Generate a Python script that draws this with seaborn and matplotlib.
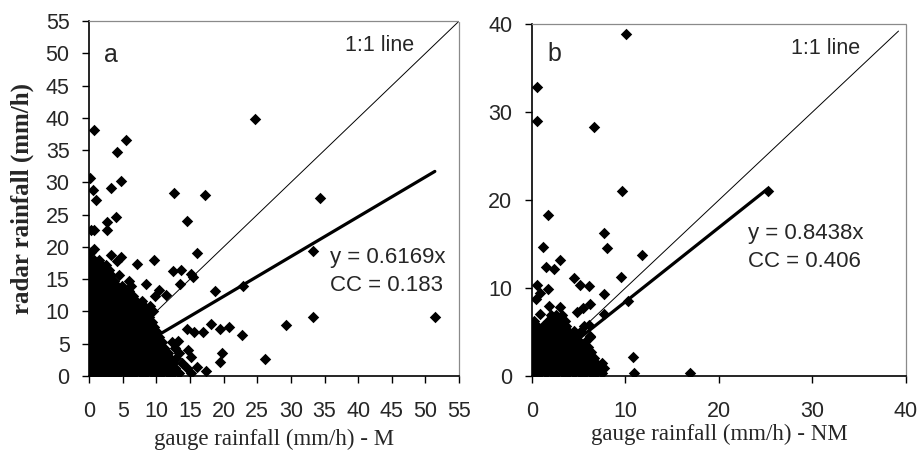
import pandas as pd
import seaborn as sns
import matplotlib.pyplot as plt

# panel a (M): dense cluster near origin, stored as rows of (radar value, gauge values)
a_cluster = [
    (18.0, [0.1, 0.8, 1.5]),
    (17.2, [0.4, 1.1, 1.9, 2.5]),
    (16.4, [0.1, 0.8, 1.5, 2.2, 2.9]),
    (15.6, [0.4, 1.1, 1.9, 2.6, 3.3, 4.4]),
    (14.8, [0.1, 0.8, 1.5, 2.2, 2.9, 3.7, 5.9]),
    (14.0, [0.4, 1.1, 1.9, 2.6, 3.3, 4.1, 4.9, 6.3]),
    (13.2, [0.1, 0.8, 1.5, 2.2, 2.9, 3.7, 4.5, 5.3, 6.0]),
    (12.4, [0.4, 1.1, 1.9, 2.6, 3.3, 4.1, 4.9, 5.6, 6.6, 9.8]),
    (11.6, [0.1, 0.8, 1.5, 2.2, 2.9, 3.7, 4.5, 5.3, 6.1, 7.0, 7.8]),
    (10.8, [0.4, 1.1, 1.9, 2.6, 3.3, 4.1, 4.9, 5.6, 6.4, 7.3, 8.2, 9.0]),
    (10.0, [0.1, 0.8, 1.5, 2.2, 2.9, 3.7, 4.5, 5.3, 6.1, 6.9, 7.7, 8.6, 9.5]),
    (9.2, [0.4, 1.1, 1.9, 2.6, 3.3, 4.1, 4.9, 5.6, 6.4, 7.2, 8.0, 8.9]),
    (8.4, [0.1, 0.8, 1.5, 2.2, 2.9, 3.7, 4.5, 5.3, 6.1, 6.9, 7.7, 8.5, 9.3]),
    (7.6, [0.4, 1.1, 1.9, 2.6, 3.3, 4.1, 4.9, 5.6, 6.4, 7.2, 8.0, 8.8, 9.6]),
    (6.8, [0.1, 0.8, 1.5, 2.2, 2.9, 3.7, 4.5, 5.3, 6.1, 6.9, 7.7, 8.5, 9.3, 10.1]),
    (6.0, [0.4, 1.1, 1.9, 2.6, 3.3, 4.1, 4.9, 5.6, 6.4, 7.2, 8.0, 8.8, 9.6, 10.4]),
    (5.2, [0.1, 0.8, 1.5, 2.2, 2.9, 3.7, 4.5, 5.3, 6.1, 6.9, 7.7, 8.5, 9.3, 10.1, 10.9, 12.4]),
    (4.4, [0.4, 1.1, 1.9, 2.6, 3.3, 4.1, 4.9, 5.6, 6.4, 7.2, 8.0, 8.8, 9.6, 10.4, 11.2, 12.8]),
    (3.6, [0.1, 0.8, 1.5, 2.2, 2.9, 3.7, 4.5, 5.3, 6.1, 6.9, 7.7, 8.5, 9.3, 10.1, 10.9, 11.7, 13.4]),
    (2.8, [0.4, 1.1, 1.9, 2.6, 3.3, 4.1, 4.9, 5.6, 6.4, 7.2, 8.0, 8.8, 9.6, 10.4, 11.2, 12.0, 12.9]),
    (2.0, [0.1, 0.8, 1.5, 2.2, 2.9, 3.7, 4.5, 5.3, 6.1, 6.9, 7.7, 8.5, 9.3, 10.1, 10.9, 11.7, 12.5, 13.8]),
    (1.2, [0.4, 1.1, 1.9, 2.6, 3.3, 4.1, 4.9, 5.6, 6.4, 7.2, 8.0, 8.8, 9.6, 10.4, 11.2, 12.0, 12.8, 14.5]),
    (0.4, [0.1, 0.8, 1.5, 2.2, 2.9, 3.7, 4.5, 5.3, 6.1, 6.9, 7.7, 8.5, 9.3, 10.1, 10.9, 11.7, 12.5, 13.3, 15.1]),
]

# panel a scattered points
a_gauge = [24.6, 0.8, 5.5, 4.1, 0.2, 4.8, 3.3, 0.6, 1.1, 12.6, 17.3, 34.4, 14.6, 4.0,
           2.6, 2.6, 0.3, 0.8, 16.1, 33.3, 0.3, 0.7, 3.3, 4.1, 4.8, 7.2, 9.7, 12.5,
           13.7, 15.1, 15.4, 13.5, 8.4, 10.4, 11.4, 18.7, 22.9, 33.3, 51.4, 29.3,
           18.1, 19.4, 20.8, 22.7, 17.0, 15.6, 14.5, 13.2, 14.7, 19.7, 19.4, 26.1,
           15.2, 16.0, 17.4]
a_radar = [39.8, 38.1, 36.6, 34.7, 30.7, 30.2, 29.1, 28.8, 27.2, 28.4, 28.1, 27.6, 24.0, 24.6,
           23.9, 22.6, 22.7, 22.6, 19.1, 19.4, 19.2, 19.7, 18.7, 17.9, 18.4, 17.4, 18.0, 16.3,
           16.4, 15.8, 15.3, 14.3, 14.3, 13.3, 12.5, 13.1, 14.0, 9.2, 9.1, 7.9,
           8.1, 7.3, 7.6, 6.3, 6.8, 6.8, 7.3, 5.5, 4.1, 3.5, 2.2, 2.7,
           2.9, 1.4, 0.8]

# panel b (NM)
b_cluster = [
    (6.9, [2.0, 2.6, 3.2]),
    (6.3, [0.2, 1.7, 2.3, 2.9, 3.5]),
    (5.7, [0.1, 0.6, 1.2, 1.8, 2.4, 3.0, 3.6, 5.6]),
    (5.1, [0.3, 0.9, 1.5, 2.1, 2.7, 3.3, 3.9, 4.5, 5.3]),
    (4.5, [0.1, 0.6, 1.2, 1.8, 2.4, 3.0, 3.6, 4.2, 4.8, 6.2]),
    (3.9, [0.3, 0.9, 1.5, 2.1, 2.7, 3.3, 3.9, 4.5, 5.1, 5.7]),
    (3.3, [0.1, 0.6, 1.2, 1.8, 2.4, 3.0, 3.6, 4.2, 4.8, 5.4, 6.0]),
    (2.7, [0.3, 0.9, 1.5, 2.1, 2.7, 3.3, 3.9, 4.5, 5.1, 5.7, 6.3]),
    (2.1, [0.1, 0.6, 1.2, 1.8, 2.4, 3.0, 3.6, 4.2, 4.8, 5.4, 6.0, 6.6]),
    (1.5, [0.3, 0.9, 1.5, 2.1, 2.7, 3.3, 3.9, 4.5, 5.1, 5.7, 6.3, 6.9, 7.5]),
    (0.9, [0.1, 0.6, 1.2, 1.8, 2.4, 3.0, 3.6, 4.2, 4.8, 5.4, 6.0, 6.6, 7.2, 7.7]),
    (0.3, [0.3, 0.9, 1.5, 2.1, 2.7, 3.3, 3.9, 4.5, 5.1, 5.7, 6.3, 6.9, 7.5]),
]

b_gauge = [10.1, 0.5, 0.5, 6.6, 9.6, 25.2, 1.7, 7.7, 8.0, 11.8, 1.2, 1.5, 2.4, 3.0,
           9.5, 4.5, 5.2, 6.1, 0.5, 1.7, 0.4, 0.9, 7.7, 10.3, 1.8, 3.0, 6.2, 5.5,
           4.8, 0.9, 7.7, 10.8, 10.9, 16.9, 6.1, 6.2]
b_radar = [38.9, 32.8, 29.0, 28.3, 21.0, 21.0, 18.3, 16.2, 14.5, 13.7, 14.7, 12.4, 12.2, 13.2,
           11.2, 11.1, 10.3, 10.2, 10.3, 9.9, 8.8, 9.4, 9.3, 8.5, 8.0, 7.8, 8.2, 7.7,
           7.3, 7.0, 7.1, 2.2, 0.3, 0.3, 5.8, 4.4]

a_slope, a_cc, a_xmax = 0.6169, 0.183, 51.4
b_slope, b_cc, b_xmax = 0.8438, 0.406, 25.2


def make_df(cluster, gx, ry):
    rows = [(x, y) for y, xs in cluster for x in xs] + list(zip(gx, ry))
    return pd.DataFrame(rows, columns=["gauge", "radar"])


df_a = make_df(a_cluster, a_gauge, a_radar)
df_b = make_df(b_cluster, b_gauge, b_radar)

sns.set_theme(style="white")
plt.rcParams["font.family"] = ["Liberation Sans", "DejaVu Sans"]
serif = ["Liberation Serif", "DejaVu Serif"]

fig = plt.figure(figsize=(9.17, 4.55), dpi=100)
ax_a = fig.add_axes([0.0971, 0.1736, 0.4035, 0.780])
ax_b = fig.add_axes([0.580, 0.1736, 0.408, 0.7736])

panels = [
    (ax_a, df_a, 55, 5, 55, a_slope, a_cc, a_xmax, "a", "gauge rainfall (mm/h) - M"),
    (ax_b, df_b, 40, 10, 39.2, b_slope, b_cc, b_xmax, "b", "gauge rainfall (mm/h) - NM"),
]

for ax, df, lim, step, one_end, slope, cc, xmax, tag, xlab in panels:
    # 1:1 line
    sns.lineplot(x=[0, one_end], y=[0, one_end], ax=ax, color="black", lw=0.7)
    sns.scatterplot(data=df, x="gauge", y="radar", ax=ax, marker="D", s=34,
                    color="black", linewidth=0, zorder=3)
    # fitted line through origin
    sns.lineplot(x=[0, xmax], y=[0, slope * xmax], ax=ax, color="black", lw=2.3, zorder=4)

    ax.set_xlim(0, lim)
    ax.set_ylim(0, lim)
    ticks = list(range(0, lim + 1, step))
    ax.set_xticks(ticks)
    ax.set_yticks(ticks)
    ax.tick_params(axis="both", direction="out", length=5, width=1, color="black",
                   left=True, bottom=True, labelsize=15.5)
    ax.tick_params(axis="x", pad=13)
    ax.tick_params(axis="y", pad=9)
    for side in ["left", "bottom"]:
        ax.spines[side].set_color("black")
        ax.spines[side].set_linewidth(1.2)
    for side in ["top", "right"]:
        ax.spines[side].set_color("#8a8a8a")
        ax.spines[side].set_linewidth(0.9)
        ax.spines[side].set_linestyle((0, (1, 1)))

    ax.set_xlabel(xlab, family=serif, fontsize=16.5)
    ax.set_ylabel("")

    ax.text(0.06, 0.905 if tag == "a" else 0.915, tag, transform=ax.transAxes,
            fontsize=18, ha="center", va="center")
    ax.text(0.785, 0.93, "1:1 line", transform=ax.transAxes, fontsize=15.5,
            ha="center", va="center")

ax_a.text(35.8, 18.4, f"y = {a_slope}x", fontsize=16, va="center")
ax_a.text(35.8, 14.0, f"CC = {a_cc}", fontsize=16, va="center")
ax_b.text(23.1, 16.2, f"y = {b_slope}x", fontsize=16, va="center")
ax_b.text(23.1, 13.0, f"CC = {b_cc}", fontsize=16, va="center")

ax_a.set_ylabel("radar rainfall (mm/h)", family=serif, fontsize=18, fontweight="bold")
ax_a.yaxis.set_label_coords(-0.148, 0.5)
ax_a.xaxis.set_label_coords(0.5, -0.15)
ax_b.xaxis.set_label_coords(0.5, -0.135)

fig.savefig("out.png", dpi=100)
